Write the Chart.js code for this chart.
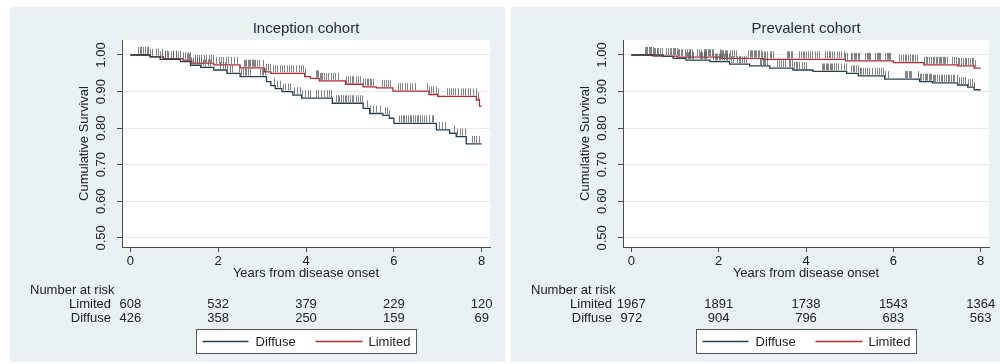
<!DOCTYPE html>
<html>
<head>
<meta charset="utf-8">
<script src="https://cdn.jsdelivr.net/npm/chart.js@4.4.1/dist/chart.umd.min.js"></script>
<style>
    body { margin: 0; background: #ffffff; width: 1000px; height: 364px; position: relative; overflow: hidden; }
    .panel { position: absolute; top: 7px; height: 355px; background: #e9f1f3; }
    #p1 { left: 10px; width: 495px; }
    #p2 { left: 511px; width: 489px; }
    canvas { display: block; }
</style>
</head>
<body>
<div class="panel" id="p1"><canvas id="c1" width="495" height="355"></canvas></div>
<div class="panel" id="p2"><canvas id="c2" width="489" height="355"></canvas></div>
<script>
// axis ticks
const xTicks = [0, 2, 4, 6, 8];
const yTicks = [0.5, 0.6, 0.7, 0.8, 0.9, 1.0];
const riskTimes = [0, 2, 4, 6, 8];

// Inception cohort - step times / survival
const incDiffuseT = [0, 0.45, 0.68, 1.14, 1.37, 1.6, 1.9, 2.2, 2.5, 3.1, 3.2, 3.3, 3.45, 3.7, 3.9, 4.6, 5.3, 5.45, 5.75, 5.9, 6.0, 6.97, 7.27, 7.42, 7.65, 8.0];
const incDiffuseS = [1.0, 0.995, 0.988, 0.982, 0.972, 0.966, 0.959, 0.95, 0.941, 0.927, 0.916, 0.908, 0.9, 0.89, 0.882, 0.868, 0.854, 0.84, 0.835, 0.827, 0.813, 0.795, 0.786, 0.777, 0.757, 0.757];
const incLimitedT = [0, 0.45, 0.75, 1.2, 1.4, 1.9, 2.5, 3.05, 3.2, 3.97, 4.1, 4.3, 4.9, 5.3, 5.6, 5.98, 6.8, 7.0, 7.88, 7.95, 8.0];
const incLimitedS = [1.0, 0.995, 0.99, 0.986, 0.978, 0.973, 0.965, 0.954, 0.95, 0.941, 0.936, 0.929, 0.92, 0.913, 0.91, 0.901, 0.892, 0.887, 0.877, 0.86, 0.86];
const incDiffuseCens = [0.58, 0.63, 0.68, 0.72, 0.8, 0.85, 0.92, 0.98, 1.03, 1.08, 1.3, 1.34, 1.38, 1.42, 1.47, 1.52, 1.56, 1.61, 1.66, 1.7, 1.76, 1.82,
    2.05, 2.1, 2.15, 2.2, 2.26, 2.31, 2.48, 2.52, 2.56, 2.6, 2.64, 2.68, 2.73, 2.96, 2.99, 3.03, 3.07, 3.28, 3.34, 3.41, 3.47, 3.52, 3.58, 3.64,
    3.73, 3.79, 3.86, 3.92, 3.98, 4.04, 4.09, 4.22, 4.28, 4.35, 4.41, 4.47, 4.53, 4.58, 4.68, 4.72, 4.76, 4.8, 4.84, 4.88, 4.92, 4.96, 5.0, 5.04,
    5.08, 5.13, 5.19, 5.23, 5.27, 5.4, 5.46, 5.53, 5.6, 5.68, 5.8, 5.85, 5.9, 6.12, 6.16, 6.2, 6.24, 6.28, 6.32, 6.36, 6.4, 6.44, 6.48, 6.52, 6.56,
    6.6, 6.64, 6.68, 6.74, 6.8, 6.86, 6.9, 7.04, 7.1, 7.16, 7.37, 7.43, 7.5, 7.56, 7.61, 7.78, 7.83, 7.88, 7.93];
const incLimitedCens = [0.17, 0.21, 0.25, 0.29, 0.33, 0.37, 0.41, 0.45, 0.49, 0.72, 0.78, 0.84, 0.98, 1.04, 1.14, 1.2, 1.25, 1.31, 1.36,
    1.47, 1.52, 1.57, 1.62, 1.68, 1.73, 1.78, 1.84, 1.89, 1.95, 2.01, 2.06, 2.12, 2.17, 2.23, 2.29, 2.35, 2.42,
    2.58, 2.61, 2.64, 2.67, 2.7, 2.73, 2.76, 2.79, 2.82, 2.85, 2.88, 2.92, 3.03, 3.08, 3.14, 3.19, 3.24, 3.3, 3.35, 3.4, 3.45, 3.51, 3.56, 3.61,
    3.66, 3.71, 3.77, 3.83, 3.88, 3.93, 3.98, 4.22, 4.25, 4.28, 4.31, 4.34, 4.37, 4.41, 4.46, 4.51, 4.56, 4.62, 4.67, 4.73,
    4.92, 4.96, 5.0, 5.04, 5.08, 5.13, 5.19, 5.24, 5.3, 5.34, 5.38, 5.42, 5.45, 5.49, 5.53, 5.74, 5.78, 5.83, 5.87, 5.91,
    6.1, 6.14, 6.19, 6.25, 6.3, 6.36, 6.42, 6.48, 6.76, 6.8, 6.85, 6.89, 6.95, 7.01, 7.21, 7.25, 7.3, 7.35, 7.4, 7.46, 7.52, 7.58, 7.63, 7.69,
    7.74, 7.8, 7.86, 7.91, 7.95];
const incRiskLimited = [608, 532, 379, 229, 120];
const incRiskDiffuse = [426, 358, 250, 159, 69];

// Prevalent cohort
const prvDiffuseT = [0, 0.73, 0.96, 1.25, 1.8, 2.25, 2.71, 3.17, 3.7, 4.16, 4.93, 5.2, 5.8, 6.6, 6.9, 7.47, 7.7, 7.85, 8.0];
const prvDiffuseS = [1.0, 0.996, 0.991, 0.986, 0.982, 0.975, 0.97, 0.964, 0.959, 0.955, 0.95, 0.943, 0.934, 0.927, 0.924, 0.918, 0.912, 0.905, 0.905];
const prvLimitedT = [0, 0.5, 1.05, 2.05, 3.0, 4.9, 6.0, 6.7, 7.47, 7.85, 8.0];
const prvLimitedS = [1.0, 0.997, 0.994, 0.991, 0.988, 0.984, 0.979, 0.973, 0.97, 0.964, 0.964];
const prvDiffuseCens = [1.26, 1.29, 1.32, 1.35, 1.38, 1.41, 1.57, 1.6, 1.63, 1.66, 1.69, 1.72, 1.88, 1.91, 1.94, 1.97, 2.0, 2.04, 2.08, 2.12,
    2.16, 2.2, 2.24, 2.28, 2.32, 2.42, 2.46, 2.5, 2.54, 2.58, 2.62, 2.95, 2.98, 3.01, 3.04, 3.07, 3.1, 3.33, 3.38, 3.43, 3.48, 3.53,
    3.6, 3.64, 3.68, 3.72, 3.76, 3.8, 3.85, 3.9, 3.95, 4.0, 4.36, 4.39, 4.42, 4.45, 4.48, 4.51, 4.54, 4.57, 4.6, 4.63, 4.68, 4.74, 4.8, 4.86, 4.92,
    5.03, 5.07, 5.11, 5.15, 5.19, 5.23, 5.27, 5.31, 5.35, 5.4, 5.45, 5.52, 5.57, 5.62, 5.67, 5.72, 5.77, 5.82, 5.88, 6.26, 6.29, 6.32, 6.35, 6.38, 6.4,
    6.56, 6.6, 6.64, 6.68, 6.72, 6.75, 6.78, 6.81, 6.84, 6.87, 6.9, 6.93, 6.96, 7.0, 7.04, 7.08, 7.12, 7.16, 7.2, 7.24,
    7.28, 7.32, 7.36, 7.4, 7.45, 7.5, 7.55, 7.6, 7.65, 7.7, 7.75, 7.8, 7.85];
const prvLimitedCens = [0.31, 0.34, 0.37, 0.4, 0.43, 0.46, 0.49, 0.52, 0.55, 0.58, 0.62, 0.66, 0.7, 0.8, 0.84, 0.88, 0.92, 0.95, 0.98, 1.01,
    1.04, 1.07, 1.1, 1.13, 1.15, 1.23, 1.27, 1.31, 1.35, 1.38, 1.5, 1.55, 1.6, 1.66, 1.69, 1.72, 1.75, 1.78, 1.81, 1.84, 1.87,
    2.02, 2.05, 2.08, 2.11, 2.14, 2.17, 2.2, 2.25, 2.3, 2.35, 2.4, 2.68, 2.71, 2.74, 2.77, 2.8, 2.83, 2.86, 2.89, 2.92, 2.96, 3.0, 3.04, 3.07, 3.1,
    3.18, 3.21, 3.24, 3.56, 3.59, 3.62, 3.65, 3.68, 3.84, 3.88, 3.92, 3.96, 4.0, 4.04, 4.09, 4.14, 4.2, 4.25, 4.3,
    4.44, 4.48, 4.52, 4.56, 4.6, 4.65, 4.7, 4.75, 4.8, 4.86, 4.9, 4.94, 5.03, 5.06, 5.09, 5.12, 5.15, 5.18, 5.21, 5.36, 5.39, 5.42, 5.45, 5.47,
    5.59, 5.62, 5.65, 5.68, 5.7, 5.82, 5.85, 5.88, 5.91, 5.93, 6.14, 6.18, 6.22, 6.26, 6.3, 6.34, 6.38, 6.42, 6.46, 6.5, 6.54,
    6.7, 6.74, 6.78, 6.82, 6.86, 6.9, 6.94, 6.98, 7.01, 7.04, 7.07, 7.1, 7.13, 7.16, 7.19, 7.22,
    7.35, 7.39, 7.43, 7.47, 7.51, 7.55, 7.59, 7.63, 7.67, 7.71, 7.75, 7.79, 7.83, 7.87];
const prvRiskLimited = [1967, 1891, 1738, 1543, 1364];
const prvRiskDiffuse = [972, 904, 796, 683, 563];

const diffuseColor = '#263f4e';
const limitedColor = '#b8262e';
const FONT = '"Liberation Sans", Arial, sans-serif';

Chart.defaults.font.family = FONT;

function toPoints(times, surv) {
    return times.map((t, i) => ({ x: t, y: surv[i] }));
}

function survivalAt(times, surv, t) {
    let s = surv[0];
    for (let i = 0; i < times.length; i++) {
        if (times[i] <= t) s = surv[i];
    }
    return s;
}

function makeChart(canvasId, title, rightPad, diffuse, limited, riskLimited, riskDiffuse) {
    // draws censor marks, rotated y labels, titles, risk table and legend box
    const extras = {
        id: 'kmExtras',
        beforeDraw(chart) {
            const a = chart.chartArea;
            chart.ctx.save();
            chart.ctx.fillStyle = '#ffffff';
            chart.ctx.fillRect(a.left, a.top, a.right - a.left, a.bottom - a.top);
            chart.ctx.restore();
        },
        afterDatasetsDraw(chart) {
            const ctx = chart.ctx, xs = chart.scales.x, ys = chart.scales.y;
            ctx.save();
            ctx.strokeStyle = 'rgba(90,90,90,0.75)';
            ctx.lineWidth = 1;
            [diffuse, limited].forEach(g => {
                g.cens.forEach(t => {
                    const px = Math.round(xs.getPixelForValue(t)) + 0.5;
                    const py = ys.getPixelForValue(survivalAt(g.t, g.s, t));
                    ctx.beginPath();
                    ctx.moveTo(px, py - 1);
                    ctx.lineTo(px, py - 8);
                    ctx.stroke();
                });
            });
            ctx.restore();
        },
        afterDraw(chart) {
            const ctx = chart.ctx, a = chart.chartArea, xs = chart.scales.x, ys = chart.scales.y;
            const cx = (a.left + a.right) / 2;
            ctx.save();
            ctx.textBaseline = 'middle';

            ctx.fillStyle = '#1c2b3a';
            ctx.font = '15px ' + FONT;
            ctx.textAlign = 'center';
            ctx.fillText(title, cx, 22);

            ctx.fillStyle = '#222';
            ctx.font = '13px ' + FONT;
            yTicks.forEach(v => {
                ctx.save();
                ctx.translate(91, ys.getPixelForValue(v));
                ctx.rotate(-Math.PI / 2);
                ctx.fillText(v.toFixed(2), 0, 0);
                ctx.restore();
            });
            ctx.save();
            ctx.translate(74, (a.top + a.bottom) / 2);
            ctx.rotate(-Math.PI / 2);
            ctx.fillText('Cumulative Survival', 0, 0);
            ctx.restore();

            ctx.fillText('Years from disease onset', cx, 266);

            // number at risk table
            ctx.textAlign = 'left';
            ctx.fillText('Number at risk', 20, 283);
            ctx.textAlign = 'right';
            ctx.fillText('Limited', 101, 297);
            ctx.fillText('Diffuse', 101, 311);
            ctx.textAlign = 'center';
            riskTimes.forEach((t, i) => {
                const px = xs.getPixelForValue(t);
                ctx.fillText(String(riskLimited[i]), px, 297);
                ctx.fillText(String(riskDiffuse[i]), px, 311);
            });

            // legend box
            const bx = Math.round(cx - 110) + 0.5, by = 322.5;
            ctx.fillStyle = '#ffffff';
            ctx.fillRect(bx, by, 220, 24);
            ctx.strokeStyle = '#555';
            ctx.lineWidth = 1;
            ctx.strokeRect(bx, by, 220, 24);
            ctx.lineWidth = 1.3;
            ctx.strokeStyle = diffuseColor;
            ctx.beginPath(); ctx.moveTo(bx + 6, by + 12); ctx.lineTo(bx + 52, by + 12); ctx.stroke();
            ctx.strokeStyle = limitedColor;
            ctx.beginPath(); ctx.moveTo(bx + 119, by + 12); ctx.lineTo(bx + 166, by + 12); ctx.stroke();
            ctx.fillStyle = '#222';
            ctx.textAlign = 'left';
            ctx.fillText('Diffuse', bx + 59, by + 12.5);
            ctx.fillText('Limited', bx + 172, by + 12.5);
            ctx.restore();
        }
    };

    return new Chart(document.getElementById(canvasId), {
        type: 'line',
        data: {
            datasets: [{
                label: 'Diffuse',
                data: toPoints(diffuse.t, diffuse.s),
                borderColor: diffuseColor,
                borderWidth: 1.3,
                stepped: true,
                pointRadius: 0,
                fill: false
            }, {
                label: 'Limited',
                data: toPoints(limited.t, limited.s),
                borderColor: limitedColor,
                borderWidth: 1.3,
                stepped: true,
                pointRadius: 0,
                fill: false
            }]
        },
        options: {
            responsive: false,
            animation: false,
            layout: { padding: { top: 33, right: rightPad, left: 0, bottom: 0 } },
            plugins: { legend: { display: false }, tooltip: { enabled: false } },
            scales: {
                x: {
                    type: 'linear',
                    min: -0.19,
                    max: 8.19,
                    afterBuildTicks: scale => { scale.ticks = xTicks.map(v => ({ value: v })); },
                    afterFit: scale => { scale.height = 115; },
                    grid: { drawOnChartArea: false, drawTicks: true, tickLength: 5, tickColor: '#4a4a4a' },
                    border: { color: '#4a4a4a', width: 1 },
                    ticks: { color: '#222', font: { size: 13 }, padding: 2, maxRotation: 0 }
                },
                y: {
                    type: 'linear',
                    min: 0.475,
                    max: 1.041,
                    afterBuildTicks: scale => { scale.ticks = yTicks.map(v => ({ value: v })); },
                    afterFit: scale => { scale.width = 112; },
                    grid: { color: '#e4ecef', tickLength: 5, tickColor: '#4a4a4a' },
                    border: { color: '#4a4a4a', width: 1 },
                    ticks: { display: false }
                }
            }
        },
        plugins: [extras]
    });
}

makeChart('c1', 'Inception cohort', 15,
    { t: incDiffuseT, s: incDiffuseS, cens: incDiffuseCens },
    { t: incLimitedT, s: incLimitedS, cens: incLimitedCens },
    incRiskLimited, incRiskDiffuse);

makeChart('c2', 'Prevalent cohort', 11,
    { t: prvDiffuseT, s: prvDiffuseS, cens: prvDiffuseCens },
    { t: prvLimitedT, s: prvLimitedS, cens: prvLimitedCens },
    prvRiskLimited, prvRiskDiffuse);
</script>
</body>
</html>
